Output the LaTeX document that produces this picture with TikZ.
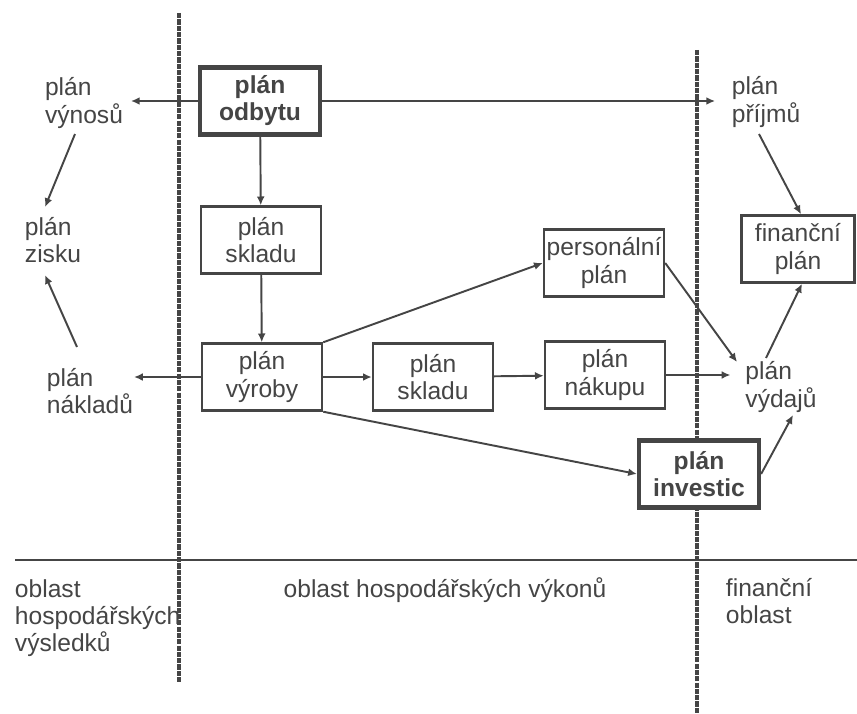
\documentclass[tikz,border=0pt]{standalone}
\usepackage{fontspec}
\setmainfont{Liberation Sans}
\usetikzlibrary{arrows.meta,calc}
\definecolor{ink}{gray}{0.27}

\begin{document}
\begin{tikzpicture}[x=0.02cm, y=-0.02cm, ink, line width=1.1pt,
    font=\fontsize{14}{15.4}\selectfont,
    box/.style={draw, fill=white, line width=1.4pt, minimum width=2.4cm,
        minimum height=1.34cm, align=center, inner sep=1pt},
    mainbox/.style={box, line width=2.4pt,
        font=\fontsize{14}{15.4}\selectfont\bfseries},
    txt/.style={align=left, inner sep=0pt},
    arr/.style={-{Latex[length=5pt,width=4.5pt]}},
    divider/.style={line width=1.8pt, dash pattern=on 3pt off 0.6pt}]

    \useasboundingbox (0, 0) rectangle (857, 713);

    % oblasti
    \draw[divider] (179, 13) -- (179, 682);
    \draw[divider] (697, 50) -- (697, 713);
    \draw (15, 560) -- (857, 560);

    \node[txt, anchor=west] (oblastV) at (14, 618) {oblast\\hospodářských\\výsledků};
    \node[txt] (oblastH) at (445, 590) {oblast hospodářských výkonů};
    \node[txt, anchor=west] (oblastF) at (725, 601) {finanční\\oblast};

    % plány
    \node[mainbox] (odbytu) at (260, 101) {plán\\odbytu};
    \node[box] (skladu) at (261, 240) {plán\\skladu};
    \node[box] (vyroby) at (262, 377) {plán\\výroby};
    \node[box] (skladuB) at (433, 377) {plán\\skladu};
    \node[box] (nakupu) at (605, 375) {plán\\nákupu};
    \node[box] (personalni) at (604, 263) {personální\\plán};
    \node[box, minimum width=2.26cm] (financni) at (798, 249) {finanční\\plán};
    \node[mainbox] (investic) at (699, 474) {plán\\investic};

    \node[txt] (vynosu) at (84, 103) {plán\\výnosů};
    \node[txt] (zisku) at (53, 240) {plán\\zisku};
    \node[txt] (nakladu) at (90, 391) {plán\\nákladů};
    \node[txt] (prijmu) at (766, 102) {plán\\příjmů};
    \node[txt] (vydaju) at (781, 387) {plán\\výdajů};

    \draw[arr, shorten >=4pt] (odbytu.west) -- (odbytu.west -| vynosu.east);
    \draw[arr, shorten >=9pt] (odbytu.east) -- (odbytu.east -| prijmu.west);
    \draw[arr] (odbytu) -- (skladu);
    \draw[arr] (skladu) -- (vyroby);
    \draw[arr] (vyroby.west) -- (vyroby.west -| nakladu.east);
    \draw[arr] (vyroby) -- (skladuB);
    \draw[arr] (skladuB) -- (nakupu);
    \draw[arr, shorten >=8pt] (nakupu.east) -- (nakupu.east -| vydaju.west);
    \draw[arr] (vyroby.north east) -- (personalni.west);
    \draw[arr] (vyroby.south east) -- (investic.west);
    \draw[arr] (personalni.east) -- ($(vydaju)+(-44, -25)$);
    \draw[arr] (investic.east) -- ($(vydaju)+(12, 28)$);
    \draw[arr] ($(vydaju)+(-15, -29)$) -- ($(financni.south)+(4, 0)$);
    \draw[arr] ($(prijmu)+(-7, 32)$) -- ($(financni.north)+(3, 0)$);
    \draw[arr] ($(vynosu)+(-9, 31)$) -- ($(zisku)+(-8, -33)$);
    \draw[arr] ($(nakladu)+(-13, -44)$) -- ($(zisku)+(-8, 35)$);
\end{tikzpicture}
\end{document}
